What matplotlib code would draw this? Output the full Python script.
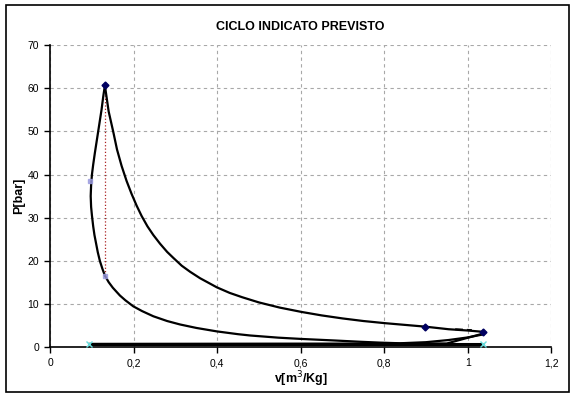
import matplotlib
matplotlib.use("Agg")
import matplotlib.pyplot as plt
from matplotlib.patches import Rectangle

plt.rcParams['font.family'] = ['Liberation Sans', 'DejaVu Sans']

# espansione (dal picco a fine corsa)
v_esp = [0.131, 0.140, 0.151, 0.160, 0.171, 0.183, 0.195, 0.207, 0.219, 0.233, 0.247,
         0.263, 0.280, 0.295, 0.315, 0.335, 0.359, 0.380, 0.399, 0.430, 0.460, 0.500,
         0.550, 0.602, 0.650, 0.700, 0.750, 0.802, 0.850, 0.898, 0.954, 1.000, 1.037]
p_esp = [60.6, 54.6, 49.9, 45.8, 42.0, 38.5, 35.5, 32.8, 30.4, 28.0, 26.0,
         24.0, 22.1, 20.7, 18.9, 17.5, 16.0, 14.9, 13.9, 12.6, 11.6, 10.4,
         9.2, 8.2, 7.4, 6.7, 6.1, 5.6, 5.2, 4.8, 4.2, 3.9, 3.6]

# compressione
v_comp = [1.037, 1.000, 0.954, 0.900, 0.838, 0.790, 0.742, 0.680, 0.602, 0.546, 0.479,
          0.450, 0.399, 0.350, 0.311, 0.280, 0.247, 0.220, 0.199, 0.180, 0.167, 0.150,
          0.140, 0.131]
p_comp = [3.0, 2.3, 1.7, 1.2, 0.95, 1.1, 1.3, 1.6, 1.95, 2.25, 2.75,
          3.05, 3.7, 4.5, 5.3, 6.1, 7.2, 8.4, 9.5, 10.9, 12.0, 13.8,
          15.1, 16.6]

# combustione
v_comb = [0.131, 0.125, 0.119, 0.114, 0.110, 0.106, 0.103, 0.100, 0.098, 0.097, 0.098,
          0.100, 0.103, 0.107, 0.111, 0.115, 0.119, 0.123, 0.127, 0.131]
p_comb = [16.6, 18.2, 20.0, 22.0, 24.0, 26.0, 28.0, 30.5, 32.5, 35.0, 37.5,
          40.0, 42.3, 45.0, 47.5, 50.0, 52.5, 55.0, 58.0, 60.6]

# scarico / aspirazione
v_scar = [1.037, 1.037, 0.950, 0.094]
p_scar = [3.6, 3.2, 0.9, 0.8]
v_asp = [0.094, 1.037]
p_asp = [0.8, 0.8]

v_tratt = [0.970, 1.010]
p_tratt = [4.2, 4.0]

# punti caratteristici
v_punti = [0.131, 0.898, 1.037]
p_punti = [60.6, 4.8, 3.6]
v_punti2 = [0.096, 0.131]
p_punti2 = [38.5, 16.6]
v_punti3 = [0.094, 1.037]
p_punti3 = [0.8, 0.8]

# isocora
v_vert = [0.131, 0.131]
p_vert = [60.6, 16.6]

xticks = [0, 0.2, 0.4, 0.6, 0.8, 1.0, 1.2]
xlabels = ['0', '0,2', '0,4', '0,6', '0,8', '1', '1,2']
yticks = [0, 10, 20, 30, 40, 50, 60, 70]

fig = plt.figure(figsize=(5.75, 3.97), dpi=100)
ax = fig.add_axes([0.0873, 0.125, 0.8713, 0.762])

ax.plot(v_vert, p_vert, color='#aa2222', linestyle=':', lw=0.9, zorder=2)
ax.plot(v_esp, p_esp, color='black', lw=1.6, zorder=3)
ax.plot(v_comp, p_comp, color='black', lw=1.6, zorder=3)
ax.plot(v_comb, p_comb, color='black', lw=1.6, zorder=3)
ax.plot(v_scar, p_scar, color='black', lw=1.6, zorder=3)
ax.plot(v_asp, p_asp, color='black', lw=2.2, zorder=3)
ax.plot(v_tratt, p_tratt, color='black', lw=1.4, linestyle=(0, (4, 2)), zorder=3)

ax.plot(v_punti, p_punti, linestyle='none', marker='D', ms=3.5, color='#000060', zorder=4)
ax.plot(v_punti2, p_punti2, linestyle='none', marker='s', ms=3.5, color='#9999dd', alpha=0.8, zorder=4)
ax.plot(v_punti3, p_punti3, linestyle='none', marker='x', ms=4, mew=1, color='#66dddd', zorder=4)

ax.set_xlim(0, 1.2)
ax.set_ylim(0, 70)
ax.set_xticks(xticks)
ax.set_xticklabels(xlabels)
ax.set_yticks(yticks)
ax.tick_params(direction='out', length=4, width=1, labelsize=7.5, pad=4)
ax.grid(True, color='#a8a8a8', linestyle=(0, (3, 3)), lw=0.8)
ax.spines['top'].set_visible(False)
ax.spines['right'].set_visible(False)
ax.spines['left'].set_linewidth(1.2)
ax.spines['bottom'].set_linewidth(1.2)

ax.set_title('CICLO INDICATO PREVISTO', fontsize=9, fontweight='bold', pad=11)
ax.set_xlabel('v[m$^3$/Kg]', fontsize=9, fontweight='bold', labelpad=1)
ax.set_ylabel('P[bar]', fontsize=9, fontweight='bold', labelpad=2)

fig.patches.append(Rectangle((6 / 575, 5 / 397), 563 / 575, 387 / 397, transform=fig.transFigure,
                             fill=False, edgecolor='black', lw=1.2))

fig.savefig('out.png', dpi=100)
